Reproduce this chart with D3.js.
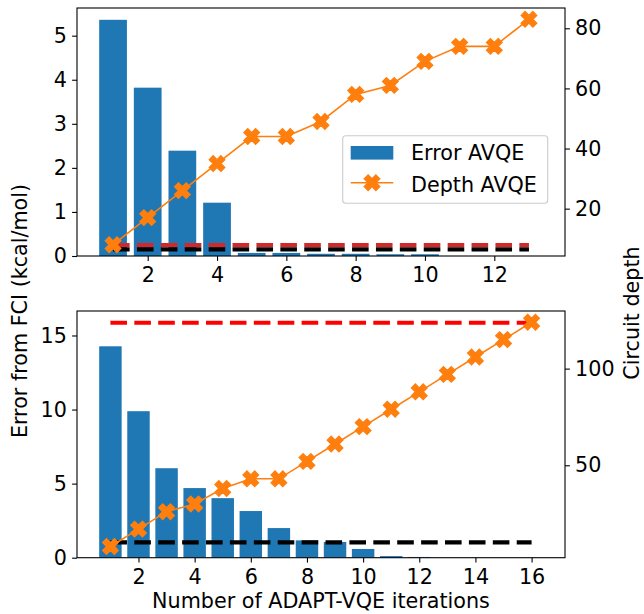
<!DOCTYPE html>
<html><head><meta charset="utf-8">
<script src="https://cdn.jsdelivr.net/npm/d3@7/dist/d3.min.js"></script>
<style>body{margin:0;background:#fff}svg{display:block}</style>
</head><body><svg id="chart" width="644" height="614"></svg>
<script>
// ---------- data ----------
const topIterations = [1,2,3,4,5,6,7,8,9,10,11,12,13];
const topError = [5.36,3.82,2.39,1.21,0.07,0.07,0.05,0.05,0.04,0.04,0,0,0];
const topDepth = [8,17,26,35,44,44,49,58,61,69,74,74,83];
const topRedLevel = 0.25;
const topBlackLevel = 0.15;

const bottomIterations = [1,2,3,4,5,6,7,8,9,10,11,12,13,14,15,16];
const bottomError = [14.27,9.89,6.04,4.70,4.02,3.15,2.00,1.17,1.06,0.59,0.11,0.05,0,0,0,0];
const bottomDepth = [8,17,26,30,38,43,43,52,61,70,79,88,97,106,115,124];
const bottomRedLevel = 15.86;
const bottomBlackLevel = 1.04;

const topXTicks = [2,4,6,8,10,12];
const topLeftTicks = [0,1,2,3,4,5];
const topRightTicks = [20,40,60,80];
const bottomXTicks = [2,4,6,8,10,12,14,16];
const bottomLeftTicks = [0,5,10,15];
const bottomRightTicks = [50,100];

const legendLabels = ["Error AVQE","Depth AVQE"];
const yLabelLeft = "Error from FCI (kcal/mol)";
const yLabelRight = "Circuit depth";
const xLabel = "Number of ADAPT-VQE iterations";

// ---------- styling ----------
const FONT = "DejaVu Sans, Liberation Sans, sans-serif";
const FS = 20.7;
const BLUE = "#1f77b4", ORANGE = "#ff7f0e";
const svg = d3.select("#chart");
svg.append("rect").attr("width",644).attr("height",614).attr("fill","#fff");

function xMarkerPath(ms){
  const pts = [[1,0],[2,0],[2,1],[3,1],[3,2],[2,2],[2,3],[1,3],[1,2],[0,2],[0,1],[1,1]]
    .map(([a,b])=>[(a-1.5)/3*ms,(b-1.5)/3*ms]);
  const c = Math.SQRT1_2;
  const r = pts.map(([a,b])=>[a*c-b*c, a*c+b*c]);
  return "M"+r.map(p=>p[0].toFixed(2)+","+p[1].toFixed(2)).join("L")+"Z";
}

function panel(cfg){
  const {x0,x1,y0,y1,iters,err,depth,xDom,lDom,rDom,xTicks,lTicks,rTicks,redLevel,blackLevel,redColor} = cfg;
  const x = d3.scaleLinear().domain(xDom).range([x0,x1]);
  const yL = d3.scaleLinear().domain(lDom).range([y1,y0]);
  const yR = d3.scaleLinear().domain(rDom).range([y1,y0]);
  const g = svg.append("g");
  const clipId = "clip"+Math.round(y0);
  svg.append("clipPath").attr("id",clipId).append("rect")
    .attr("x",x0).attr("y",y0).attr("width",x1-x0).attr("height",y1-y0);
  const plot = g.append("g").attr("clip-path",`url(#${clipId})`);
  // bars
  const bw = x(0.8)-x(0);
  plot.selectAll("rect.bar").data(iters.map((d,i)=>({x:d,v:err[i]}))).join("rect")
    .attr("class","bar")
    .attr("x",d=>x(d.x)-bw/2).attr("width",bw)
    .attr("y",d=>yL(d.v)).attr("height",d=>yL(0)-yL(d.v))
    .attr("fill",BLUE);
  // dashed reference lines
  const first = iters[0], last = iters[iters.length-1];
  [[redLevel,redColor],[blackLevel,"#000"]].forEach(([lv,col])=>{
    plot.append("line").attr("x1",x(first)).attr("x2",x(last))
      .attr("y1",yL(lv)).attr("y2",yL(lv))
      .attr("stroke",col).attr("stroke-width",4.2)
      .attr("stroke-dasharray","16.6,7.3");
  });
  // depth line
  const line = d3.line().x((d,i)=>x(iters[i])).y(d=>yR(d));
  plot.append("path").datum(depth).attr("d",line)
    .attr("fill","none").attr("stroke",ORANGE).attr("stroke-width",1.6);
  plot.selectAll("path.mk").data(depth).join("path").attr("class","mk")
    .attr("transform",(d,i)=>`translate(${x(iters[i])},${yR(d)})`)
    .attr("d",xMarkerPath(16.5))
    .attr("fill",ORANGE).attr("stroke",ORANGE).attr("stroke-width",1.3)
    .attr("stroke-linejoin","miter");
  // axes
  const styleAxis = sel=>{
    sel.select(".domain").remove();
    sel.selectAll(".tick line").attr("stroke","#000").attr("stroke-width",1.1);
    sel.selectAll(".tick text").attr("font-family",FONT).attr("font-size",FS).attr("fill","#000");
  };
  g.append("g").attr("transform",`translate(0,${y1})`)
    .call(d3.axisBottom(x).tickValues(xTicks).tickFormat(d3.format("d")).tickSize(4.9).tickPadding(6.4))
    .call(styleAxis);
  g.append("g").attr("transform",`translate(${x0},0)`)
    .call(d3.axisLeft(yL).tickValues(lTicks).tickFormat(d3.format("d")).tickSize(4.9).tickPadding(5.2))
    .call(styleAxis);
  g.append("g").attr("transform",`translate(${x1},0)`)
    .call(d3.axisRight(yR).tickValues(rTicks).tickFormat(d3.format("d")).tickSize(4.9).tickPadding(5.2))
    .call(styleAxis);
  g.selectAll(".tick text").attr("font-family",FONT).attr("font-size",FS);
  // frame
  g.append("rect").attr("x",x0).attr("y",y0).attr("width",x1-x0).attr("height",y1-y0)
    .attr("fill","none").attr("stroke","#000").attr("stroke-width",1.1);
  return {x,yL,yR};
}

const P1 = panel({x0:77,x1:565,y0:8,y1:256,iters:topIterations,err:topError,depth:topDepth,
  xDom:[0.6-0.64,13.4+0.64], lDom:[0,d3.max(topError)*1.05],
  rDom:[d3.min(topDepth)-0.05*(d3.max(topDepth)-d3.min(topDepth)), d3.max(topDepth)+0.05*(d3.max(topDepth)-d3.min(topDepth))],
  xTicks:topXTicks,lTicks:topLeftTicks,rTicks:topRightTicks,
  redLevel:topRedLevel,blackLevel:topBlackLevel,redColor:"#d62728"});

const P2 = panel({x0:77,x1:565,y0:311,y1:557.7,iters:bottomIterations,err:bottomError,depth:bottomDepth,
  xDom:[0.6-0.79,16.4+0.79], lDom:[0,bottomRedLevel*1.05],
  rDom:[d3.min(bottomDepth)-0.05*(d3.max(bottomDepth)-d3.min(bottomDepth)), d3.max(bottomDepth)+0.05*(d3.max(bottomDepth)-d3.min(bottomDepth))],
  xTicks:bottomXTicks,lTicks:bottomLeftTicks,rTicks:bottomRightTicks,
  redLevel:bottomRedLevel,blackLevel:bottomBlackLevel,redColor:"#ff0000"});

// legend (top panel)
const lg = svg.append("g");
lg.append("rect").attr("x",342.7).attr("y",135.7).attr("width",205).attr("height",67.6).attr("rx",3)
  .attr("fill","#fff").attr("fill-opacity",0.8).attr("stroke","#cccccc").attr("stroke-width",1.1);
lg.append("rect").attr("x",350.7).attr("y",146).attr("width",42.6).attr("height",13.6).attr("fill",BLUE);
lg.append("line").attr("x1",350.7).attr("x2",393.3).attr("y1",182.7).attr("y2",182.7)
  .attr("stroke",ORANGE).attr("stroke-width",1.6);
lg.append("path").attr("transform","translate(372,182.7)").attr("d",xMarkerPath(16.5))
  .attr("fill",ORANGE).attr("stroke",ORANGE).attr("stroke-width",1.3);
lg.selectAll("text").data(legendLabels).join("text")
  .attr("x",411).attr("y",(d,i)=>i===0?160.2:191.5)
  .attr("font-family",FONT).attr("font-size",FS).attr("fill","#000").text(d=>d);

// axis labels
svg.append("text").attr("transform","translate(27,311) rotate(-90)").attr("text-anchor","middle")
  .attr("font-family",FONT).attr("font-size",FS).attr("fill","#000").text(yLabelLeft);
svg.append("text").attr("transform","translate(639,313) rotate(-90)").attr("text-anchor","middle")
  .attr("font-family",FONT).attr("font-size",FS).attr("fill","#000").text(yLabelRight);
svg.append("text").attr("x",321).attr("y",608).attr("text-anchor","middle")
  .attr("font-family",FONT).attr("font-size",FS).attr("fill","#000").text(xLabel);
</script></body></html>
